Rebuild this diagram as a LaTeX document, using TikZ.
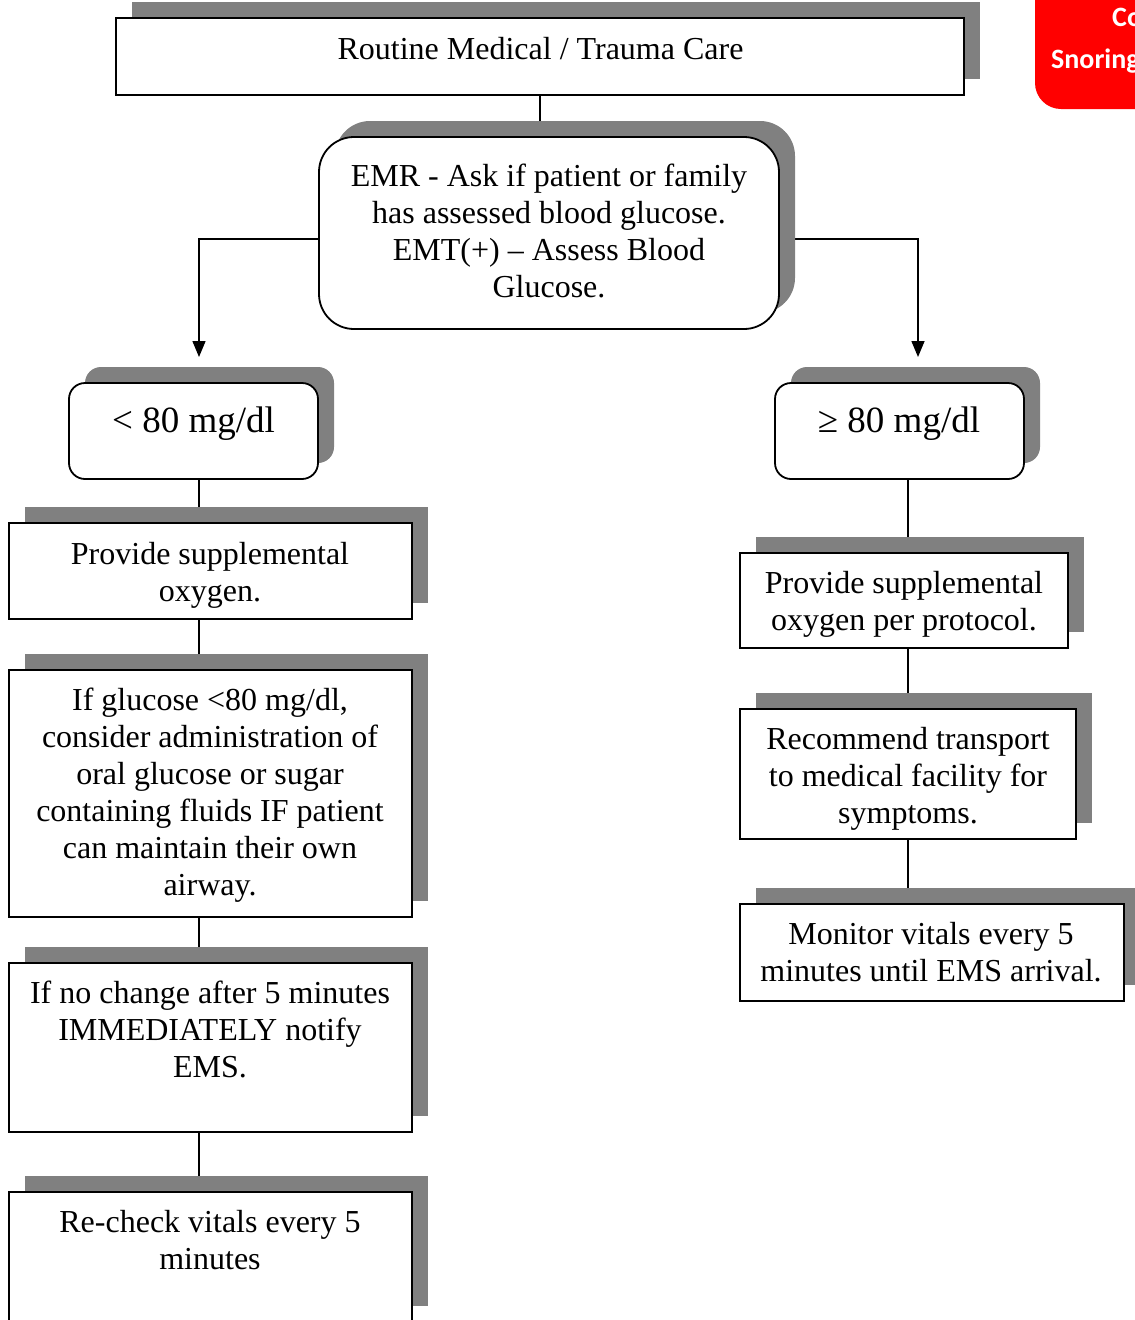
\documentclass[tikz,border=0pt]{standalone}
\usepackage{fontspec}
\setmainfont{Liberation Serif}
\newfontfamily\tabsans{Carlito}
\usetikzlibrary{shadows,arrows.meta,backgrounds}
\definecolor{shadowgray}{HTML}{808080}
\definecolor{tabred}{HTML}{FF0000}

\begin{document}
\begin{tikzpicture}[x=1pt,y=-1pt,
  box/.style={draw=black, line width=1.8pt, fill=white, inner sep=0pt, outer sep=0pt,
    drop shadow={shadow xshift=16pt, shadow yshift=16pt, fill=shadowgray, opacity=1}},
  roundbox/.style={box, rounded corners=#1},
  txt/.style={font=\fontsize{32}{37}\selectfont, align=center, inner sep=0pt, anchor=north},
  bigtxt/.style={font=\fontsize{37}{44}\selectfont, inner sep=0pt, anchor=base},
  conn/.style={line width=1.5pt, draw=black},
  arr/.style={conn, -{Triangle[length=16pt,width=13pt]}},
  tabtxt/.style={font=\tabsans\bfseries\fontsize{28}{34}\selectfont, text=white, inner sep=0pt, anchor=base west},
]
\useasboundingbox (0,0) rectangle (1135,1320);

% corner tab
\node[fill=tabred, rounded corners=26pt, minimum width=200pt, minimum height=160pt, inner sep=0pt] (tab) at (1135,29) {};
\node[tabtxt] (tabA) at (1112,26) {Co};
\node[tabtxt] (tabB) at (1051,68) {Snoring};

% boxes
\node[box, minimum width=848pt, minimum height=77pt] (top) at (540,56.5) {};
\node[roundbox=35pt, minimum width=460pt, minimum height=192pt] (emr) at (549,233) {};
\node[roundbox=16pt, minimum width=249pt, minimum height=96pt] (lo) at (193.5,431) {};
\node[roundbox=16pt, minimum width=249pt, minimum height=96pt] (ge) at (899.5,431) {};
\node[box, minimum width=403pt, minimum height=96pt] (oxl) at (210.5,571) {};
\node[box, minimum width=403pt, minimum height=247pt] (gl) at (210.5,793.5) {};
\node[box, minimum width=403pt, minimum height=169pt] (nc) at (210.5,1047.5) {};
\node[box, minimum width=403pt, minimum height=130pt] (rc) at (210.5,1257) {};
\node[box, minimum width=328pt, minimum height=95pt] (oxr) at (904,600.5) {};
\node[box, minimum width=336pt, minimum height=130pt] (tr) at (908,774) {};
\node[box, minimum width=384pt, minimum height=97pt] (mv) at (932,952.5) {};

% texts
\node[txt] (topT) at (540.5,37) {Routine Medical / Trauma Care};
\node[txt] (emrT) at (549,164) {EMR - Ask if patient or family\\has assessed blood glucose.\\EMT(+) – Assess Blood\\Glucose.};
\node[bigtxt] (loT) at (193.5,432) {< 80 mg/dl};
\node[bigtxt] (geT) at (899,432) {≥ 80 mg/dl};
\node[txt] (oxlT) at (210,542) {Provide supplemental\\oxygen.};
\node[txt] (glT) at (210,688) {If glucose <80 mg/dl,\\consider administration of\\oral glucose or sugar\\containing fluids IF patient\\can maintain their own\\airway.};
\node[txt] (ncT) at (210,981) {If no change after 5 minutes\\IMMEDIATELY notify\\EMS.};
\node[txt] (rcT) at (210,1210) {Re-check vitals every 5\\minutes};
\node[txt] (oxrT) at (904,571) {Provide supplemental\\oxygen per protocol.};
\node[txt] (trT) at (908,727) {Recommend transport\\to medical facility for\\symptoms.};
\node[txt] (mvT) at (931,922) {Monitor vitals every 5\\minutes until EMS arrival.};

% connector ends
\coordinate (la) at (199,357);
\coordinate (ra) at (918,357);
\coordinate (rx) at (908,0);

\begin{scope}[on background layer]
  \draw[conn] (top.south) -- (emr.north -| top.south);
  \draw[arr] ([yshift=-6pt]emr.west) -| (la);
  \draw[arr] ([yshift=-6pt]emr.east) -| (ra);
  \draw[conn] (lo.south -| la) -- (oxl.north -| la);
  \draw[conn] (oxl.south -| la) -- (gl.north -| la);
  \draw[conn] (gl.south -| la) -- (nc.north -| la);
  \draw[conn] (nc.south -| la) -- (rc.north -| la);
  \draw[conn] (ge.south -| rx) -- (oxr.north -| rx);
  \draw[conn] (oxr.south -| rx) -- (tr.north -| rx);
  \draw[conn] (tr.south -| rx) -- (mv.north -| rx);
\end{scope}
\end{tikzpicture}
\end{document}
